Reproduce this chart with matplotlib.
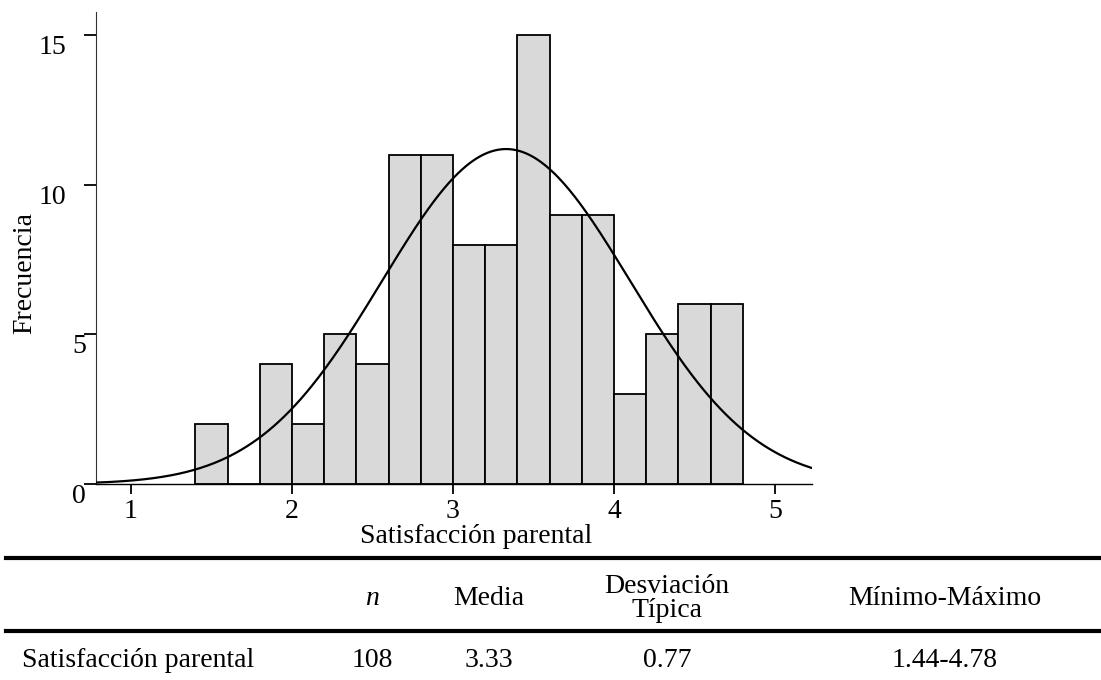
import numpy as np
import matplotlib
matplotlib.use('Agg')
import matplotlib.pyplot as plt
from matplotlib.lines import Line2D
from matplotlib.transforms import ScaledTranslation

# histogram data (bins of width 0.2)
bin_left = [1.4, 1.6, 1.8, 2.0, 2.2, 2.4, 2.6, 2.8, 3.0, 3.2, 3.4, 3.6, 3.8, 4.0, 4.2, 4.4, 4.6]
counts = [2, 0, 4, 2, 5, 4, 11, 11, 8, 8, 15, 9, 9, 3, 5, 6, 6]
bin_width = 0.2

# descriptive stats shown in the table
n_obs = 108
media = 3.33
desv = 0.77
minimo = 1.44
maximo = 4.78

x_ticks = [1, 2, 3, 4, 5]
y_ticks = [0, 5, 10, 15]

header = ['n', 'Media', 'Desviación\nTípica', 'Mínimo-Máximo']
row_label = 'Satisfacción parental'
row_values = [str(n_obs), f'{media:.2f}', f'{desv:.2f}', f'{minimo:.2f}-{maximo:.2f}']

plt.rcParams['font.family'] = ['Liberation Serif', 'DejaVu Serif']
FS = 20
W, H = 1101, 680

fig = plt.figure(figsize=(W / 100, H / 100), dpi=100)
ax = fig.add_axes([96 / W, 1 - 484 / H, 716 / W, 472 / H])

ax.bar(bin_left, counts, width=bin_width, align='edge', color='#d9d9d9',
       edgecolor='black', linewidth=1.3, zorder=2)

xs = np.linspace(0.783, 5.23, 400)
curve = n_obs * bin_width / (desv * np.sqrt(2 * np.pi)) * np.exp(-0.5 * ((xs - media) / desv) ** 2)
ax.plot(xs, curve, color='black', linewidth=1.6, zorder=3)

ax.set_xlim(0.783, 5.23)
ax.set_ylim(0, 15.77)
ax.set_xticks(x_ticks)
ax.set_yticks(y_ticks)
ax.set_xticklabels([str(t) for t in x_ticks], fontsize=FS)
ax.set_yticklabels([str(t) for t in y_ticks], fontsize=FS, va='top')
ax.tick_params(axis='x', direction='out', length=7.5, width=1.3, pad=3)
ax.tick_params(axis='y', direction='out', length=8.5, width=1.3, pad=13)

# single digit labels sit closer to the axis in the original
for lbl, t in zip(ax.get_yticklabels(), y_ticks):
    if t < 10:
        lbl.set_transform(lbl.get_transform() + ScaledTranslation(20 / 100, 0, fig.dpi_scale_trans))

for s in ['top', 'right']:
    ax.spines[s].set_visible(False)
ax.spines['left'].set_color('#333333')
ax.spines['left'].set_linewidth(0.8)
ax.spines['bottom'].set_linewidth(1.0)

ax.set_xlabel('Satisfacción parental', fontsize=FS)
ax.xaxis.set_label_coords((476 - 96) / 716, -0.085)
ax.set_ylabel('Frecuencia', fontsize=FS)
ax.yaxis.set_label_coords(-0.082, 0.447)

# table below the chart
for yp in [558, 631]:
    fig.add_artist(Line2D([6 / W, 1.0], [1 - yp / H, 1 - yp / H], color='black', linewidth=3.0))

col_x = [372, 489, 667, 945]
fig.text(col_x[0] / W, 1 - 605 / H, header[0], fontsize=FS, style='italic', ha='center', va='baseline')
fig.text(col_x[1] / W, 1 - 605 / H, header[1], fontsize=FS, ha='center', va='baseline')
d1, d2 = header[2].split('\n')
fig.text(col_x[2] / W, 1 - 593 / H, d1, fontsize=FS, ha='center', va='baseline')
fig.text(col_x[2] / W, 1 - 617 / H, d2, fontsize=FS, ha='center', va='baseline')
fig.text(col_x[3] / W, 1 - 605 / H, header[3], fontsize=FS, ha='center', va='baseline')

fig.text(22 / W, 1 - 667 / H, row_label, fontsize=FS, ha='left', va='baseline')
for cx, val in zip(col_x, row_values):
    fig.text(cx / W, 1 - 667 / H, val, fontsize=FS, ha='center', va='baseline')

fig.savefig('out.png', dpi=100)
